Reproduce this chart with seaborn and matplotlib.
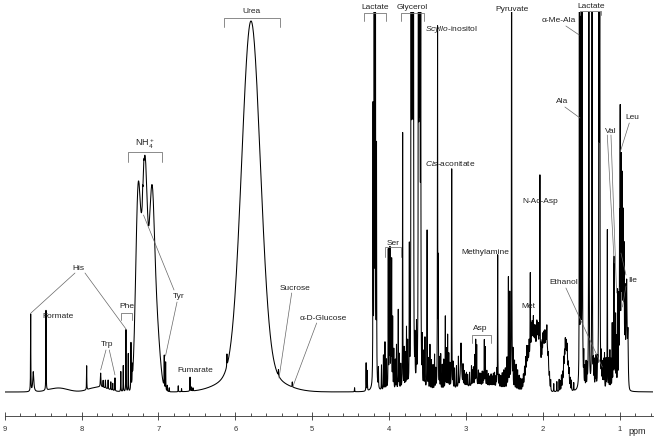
import numpy as np
import seaborn as sns
import matplotlib.pyplot as plt
from matplotlib.ticker import MultipleLocator

# sharp lines: position (ppm), height (px above baseline), half width (ppm)
line_ppm = [8.662, 8.628, 8.463, 7.934, 7.752, 7.72, 7.69, 7.655, 7.62, 7.595, 7.566,
            7.49, 7.458, 7.423, 7.393, 7.358, 7.34, 7.205, 7.19, 6.925, 6.907, 6.885, 6.86,
            6.743, 6.70, 6.59, 6.57, 6.55, 6.11, 5.44, 5.26, 4.45, 4.30, 4.285,
            4.21, 4.195, 4.18, 4.165, 4.14, 4.10, 4.075, 4.055, 4.035, 4.012, 4.00, 3.99,
            3.978, 3.968, 3.955, 3.94, 3.92, 3.905, 3.882, 3.868, 3.85, 3.825, 3.805, 3.79,
            3.775, 3.76, 3.738, 3.715, 3.705, 3.695, 3.685, 3.665, 3.645, 3.62, 3.61, 3.60,
            3.59, 3.57, 3.55, 3.535, 3.507, 3.49, 3.47, 3.45, 3.43, 3.41, 3.395, 3.371,
            3.362, 3.345, 3.33, 3.31, 3.29, 3.27, 3.255, 3.24, 3.225, 3.21, 3.187, 3.17,
            3.15, 3.125, 3.10, 3.066, 3.04, 3.025, 3.01, 2.995, 2.98, 2.955, 2.93, 2.915,
            2.905, 2.888, 2.875, 2.862, 2.84, 2.825, 2.81, 2.79, 2.775, 2.763, 2.75, 2.73,
            2.71, 2.69, 2.675, 2.66, 2.645, 2.63, 2.61, 2.6, 2.589, 2.57, 2.55, 2.53, 2.51,
            2.49, 2.468, 2.45, 2.432, 2.408, 2.39, 2.37, 2.35, 2.33, 2.31, 2.29, 2.27,
            2.255, 2.24, 2.225, 2.21, 2.195, 2.18, 2.165, 2.15, 2.14, 2.125, 2.11, 2.10,
            2.08, 2.07, 2.06, 2.050, 2.040, 2.03, 2.02, 2.01, 2.00, 1.988, 1.975, 1.962,
            1.95, 1.93, 1.915, 1.90, 1.86, 1.82, 1.79, 1.775, 1.76, 1.745, 1.73, 1.72,
            1.71, 1.695, 1.685, 1.67, 1.66, 1.645, 1.63, 1.60, 1.527, 1.510, 1.490, 1.47,
            1.455, 1.44, 1.425, 1.403, 1.362, 1.345, 1.335, 1.32, 1.31, 1.29, 1.272, 1.262,
            1.24, 1.23, 1.22, 1.21, 1.20, 1.18, 1.163, 1.145, 1.13, 1.115, 1.10, 1.088,
            1.077, 1.066, 1.056, 1.045, 1.03, 1.015, 1.004, 0.996, 0.982, 0.97, 0.955,
            0.945, 0.931, 0.912, 0.895]
line_height = [77, 20, 80, 24, 14, 7, 8, 9, 8, 7, 13,
               20, 26, 62, 38, 46, 15, 10, 8, 32, 28, 6, 4,
               6, 3, 14, 4, 3, 12, 6, 5, 4, 28, 20,
               270, 900, 900, 230, 20, 25, 35, 48, 30, 138, 95, 136,
               100, 126, 70, 40, 30, 45, 80, 35, 25, 257, 40, 35,
               60, 45, 135, 900, 900, 900, 900, 40, 55, 900, 900, 900,
               500, 45, 35, 50, 159, 30, 45, 30, 25, 35, 20, 359,
               120, 30, 35, 25, 30, 73, 40, 54, 35, 25, 220, 25,
               20, 22, 30, 45, 20, 15, 12, 14, 12, 14, 20, 15,
               18, 30, 45, 40, 15, 12, 12, 14, 12, 45, 38, 15,
               12, 10, 12, 10, 13, 14, 10, 15, 132, 12, 12, 15, 18,
               20, 30, 110, 93, 600, 35, 28, 25, 20, 15, 12, 10,
               12, 14, 16, 20, 15, 18, 80, 20, 18, 22, 16, 18,
               20, 16, 18, 15, 184, 16, 18, 15, 15, 14, 16, 12,
               18, 12, 10, 10, 8, 10, 12, 10, 14, 12, 15, 12,
               16, 12, 14, 10, 12, 10, 10, 8, 372, 900, 900, 30,
               20, 25, 20, 900, 900, 20, 25, 22, 30, 20, 900, 900,
               30, 20, 25, 28, 35, 30, 160, 30, 39, 30, 65, 45,
               130, 50, 72, 50, 95, 80, 142, 240, 172, 142, 110,
               90, 65, 62, 40]
line_width = [0.002] * len(line_ppm)
for i, p in enumerate(line_ppm):
    if p in (8.628, 3.066):
        line_width[i] = 0.008
    elif p in (7.752, 0.912, 0.895):
        line_width[i] = 0.004

# broad components (gaussian): urea, NH4+ triplet, multiplet humps
hump_ppm = [8.30, 7.78, 7.263, 7.176, 7.088, 7.03, 5.797, 5.797, 2.80, 2.20, 2.13, 2.065,
            1.995, 1.95, 1.70, 0.965, 0.91]
hump_height = [4, 5, 203, 225, 170, 70, 346, 25, 6, 25, 50, 45,
               40, 45, 40, 70, 40]
hump_sigma = [0.12, 0.12, 0.033, 0.033, 0.033, 0.045, 0.12, 0.3, 0.25, 0.03, 0.03, 0.025,
              0.02, 0.02, 0.025, 0.025, 0.012]

tick_ppm = [9, 8, 7, 6, 5, 4, 3, 2, 1]

sns.set_style("white")
plt.rcParams["font.family"] = ["Liberation Sans", "DejaVu Sans"]
plt.rcParams["mathtext.fontset"] = "custom"
plt.rcParams["mathtext.rm"] = "Liberation Sans"
plt.rcParams["mathtext.it"] = "Liberation Sans:italic"

# build the trace from the peak table
ppm = np.union1d(np.linspace(0.5656, 9.0, 24000), line_ppm)
c = np.array(line_ppm)[:, None]
h = np.array(line_height)[:, None]
w = np.array(line_width)[:, None]
spec = (h / (1 + ((ppm[None, :] - c) / w) ** 2)).sum(axis=0)
c = np.array(hump_ppm)[:, None]
h = np.array(hump_height)[:, None]
s = np.array(hump_sigma)[:, None]
spec += (h * np.exp(-0.5 * ((ppm[None, :] - c) / s) ** 2)).sum(axis=0)

fig = plt.figure(figsize=(6.61, 4.38), dpi=100)
ax = fig.add_axes([4.7 / 661, (438 - 415.7) / 438, (653.3 - 4.7) / 661, (415.7 - 12) / 438])
sns.lineplot(x=ppm, y=spec, ax=ax, color="black", lw=0.75, estimator=None, sort=False)
ax.set_xlim(9, 0.5656)
ax.set_ylim(-23.7, 380)

sns.despine(ax=ax, left=True)
ax.set_yticks([])
ax.set_xticks(tick_ppm)
ax.set_xticklabels([str(t) for t in tick_ppm])
ax.xaxis.set_minor_locator(MultipleLocator(0.2))
ax.tick_params(axis="x", which="both", bottom=True)
ax.tick_params(axis="x", which="major", direction="inout", length=5.5, width=0.6,
               labelsize=5.5, pad=5, color="#333333", labelcolor="#333333")
ax.tick_params(axis="x", which="minor", direction="in", length=2.4, width=0.6, color="#333333")
ax.spines["bottom"].set_linewidth(0.6)
ax.spines["bottom"].set_color("#333333")
ax.set_xlabel("")
ax.set_ylabel("")


def label(x, y, txt, ha="center", size=6):
    ax.text(x, y, txt, ha=ha, va="center", fontsize=size, color="#222222")


def bracket(x1, x2, ytop, yleg):
    ax.plot([x1, x1, x2, x2], [yleg, ytop, ytop, yleg], color="#777777", lw=0.6, clip_on=False)


def leader(x1, y1, x2, y2):
    ax.plot([x1, x2], [y1, y2], color="#666666", lw=0.5, clip_on=False)


label(8.047, 124, "His")
leader(8.086, 119, 8.658, 79)
leader(7.956, 119, 7.423, 63)
label(8.313, 75, "Formate")
label(7.666, 47, "Trp")
leader(7.683, 42, 7.752, 22)
leader(7.640, 42, 7.566, 17)
label(7.415, 86, "Phe")
bracket(7.492, 7.341, 79, 72)
label(7.176, 248, r"NH$_4^+$", size=6.5)
bracket(7.401, 6.951, 240, 230)
label(6.733, 96, "Tyr")
leader(6.798, 102, 7.195, 177)
leader(6.759, 90, 6.909, 36)
label(6.525, 22, "Fumarate")
label(5.797, 381, "Urea")
bracket(6.148, 5.420, 374, 365)
label(5.225, 104, "Sucrose")
leader(5.268, 99, 5.433, 14)
label(4.857, 74, "α-D-Glucose")
leader(4.943, 69, 5.255, 5)
label(4.185, 385, "Lactate")
bracket(4.324, 4.042, 379, 371)
label(3.694, 385, "Glycerol")
bracket(3.850, 3.544, 379, 371)
label(3.534, 363, r"$\mathit{Scyllo}$-inositol", ha="left")
label(3.955, 149, "Ser")
bracket(4.055, 3.850, 145, 135)
label(3.204, 228, r"$\mathit{Cis}$-aconitate")
label(2.810, 63, "Asp")
bracket(2.927, 2.680, 57, 49)
label(2.755, 140, "Methylamine")
label(2.399, 383, "Pyruvate")
label(2.188, 86, "Met")
label(2.040, 191, "N-Ac-Asp")
label(1.736, 110, "Ethanol")
leader(1.702, 104, 1.228, 25)
label(1.795, 372, "α-Me-Ala")
leader(1.702, 366, 1.529, 357)
label(1.745, 291, "Ala")
leader(1.715, 285, 1.519, 274)
label(1.380, 386, "Lactate")
bracket(1.519, 1.250, 381, 377)
label(1.116, 261, "Val")
leader(1.164, 257, 1.074, 129)
leader(1.116, 257, 1.043, 99)
label(0.840, 275, "Leu")
leader(0.878, 269, 0.996, 240)
label(0.840, 112, "Ile")
leader(0.921, 117, 0.986, 139)
leader(0.921, 106, 0.967, 85)
label(0.895, -40, "ppm", ha="left", size=6.5)

fig.savefig("out.png", dpi=100)
